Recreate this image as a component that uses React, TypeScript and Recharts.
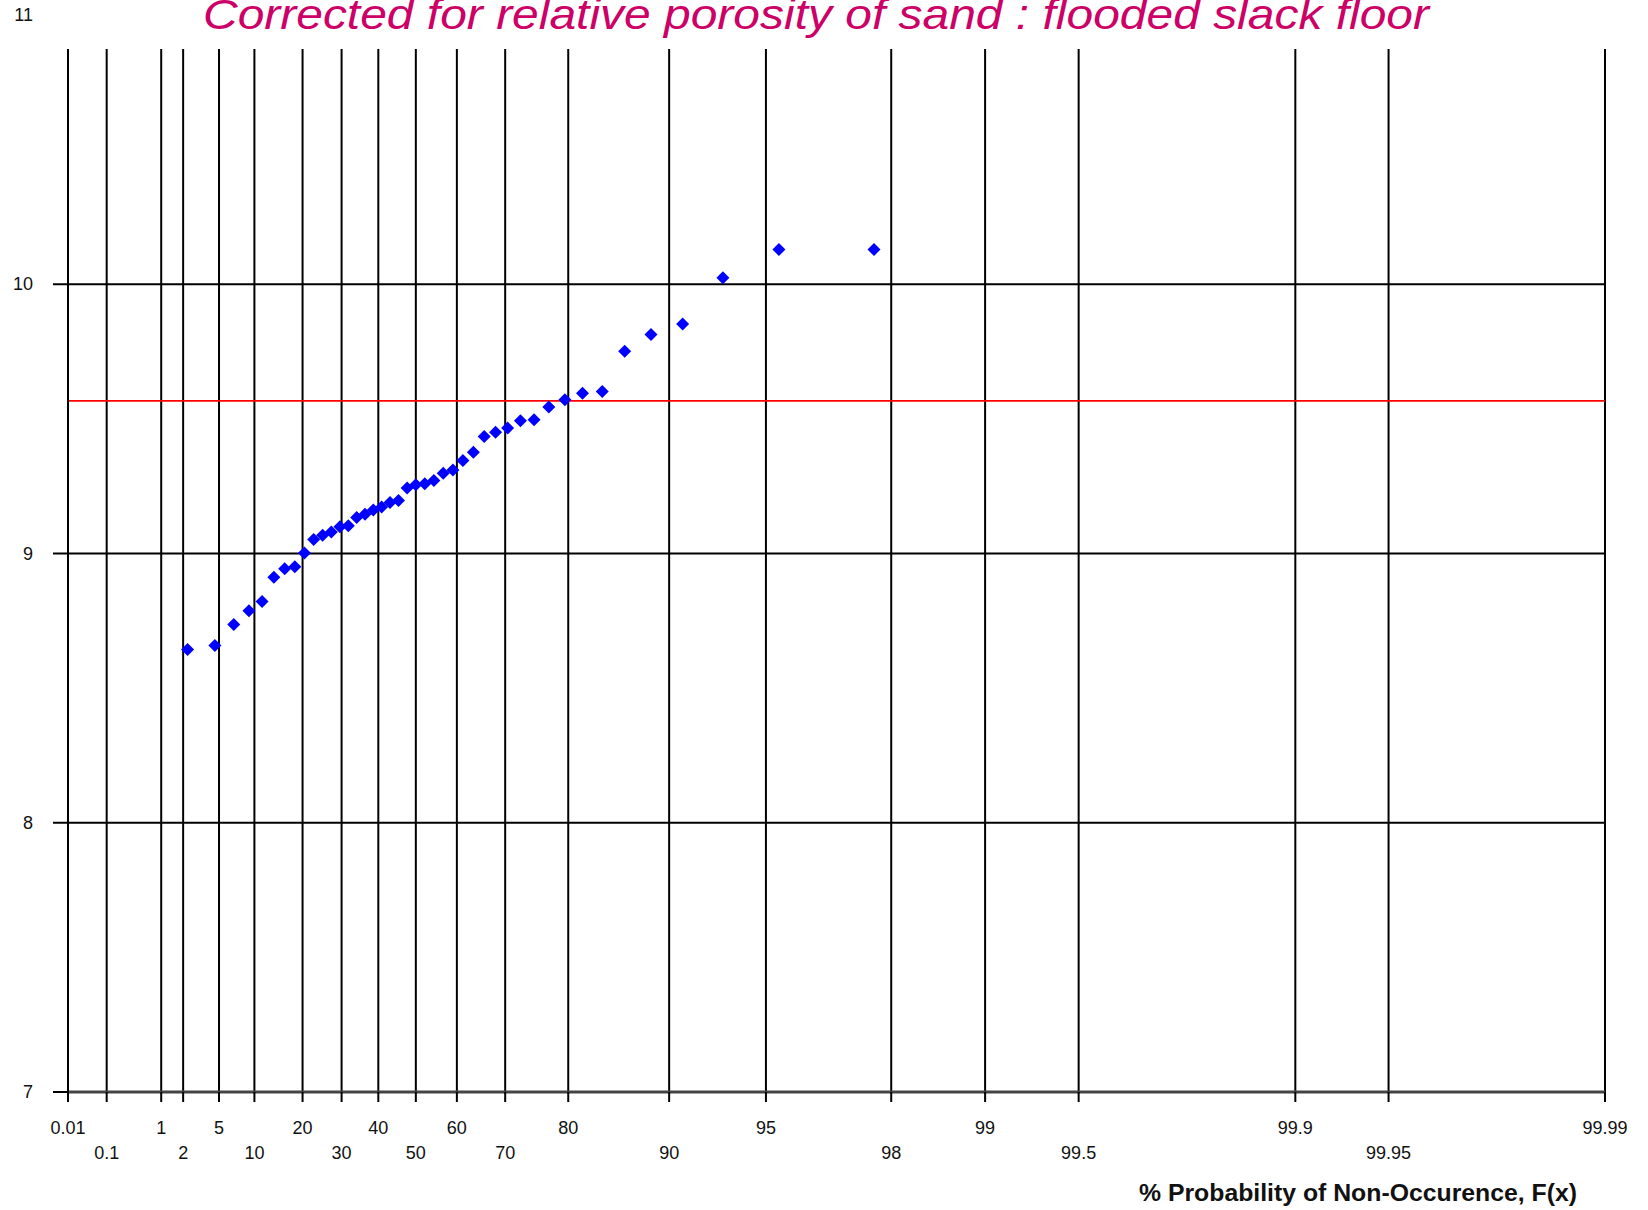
import React from 'react';
import {
  ScatterChart,
  Scatter,
  XAxis,
  YAxis,
  CartesianGrid,
  ReferenceLine,
} from 'recharts';

// plotting positions (% non-occurrence) and corrected porosity values
const probPct = [
  2.27, 4.55, 6.82, 9.09, 11.36, 13.64, 15.91, 18.18, 20.45, 22.73, 25.0,
  27.27, 29.55, 31.82, 34.09, 36.36, 38.64, 40.91, 43.18, 45.45, 47.73, 50.0,
  52.27, 54.55, 56.82, 59.09, 61.36, 63.64, 65.91, 68.18, 70.45, 72.73, 75.0,
  77.27, 79.55, 81.82, 84.09, 86.36, 88.64, 90.91, 93.18, 95.45, 97.73,
];
const porosity = [
  8.643, 8.658, 8.736, 8.787, 8.822, 8.912, 8.943, 8.951, 9.002, 9.052, 9.068,
  9.08, 9.099, 9.103, 9.134, 9.146, 9.162, 9.173, 9.189, 9.197, 9.243, 9.255,
  9.259, 9.271, 9.298, 9.31, 9.345, 9.376, 9.435, 9.45, 9.466, 9.493, 9.497,
  9.544, 9.571, 9.595, 9.602, 9.751, 9.813, 9.852, 10.024, 10.129, 10.129,
];
const meanValue = 9.567;

const probTicks = [
  0.01, 0.1, 1, 2, 5, 10, 20, 30, 40, 50, 60, 70, 80, 90, 95, 98, 99, 99.5,
  99.9, 99.95, 99.99,
];
const yTicks = [7, 8, 9, 10, 11];

const TITLE = 'Corrected for relative porosity of sand : flooded slack floor';
const X_TITLE = '% Probability of Non-Occurence, F(x)';

// Gumbel reduced variate for a percentage
const gumbel = (pct: number) => -Math.log(-Math.log(pct / 100));

const data = probPct.map((p, i) => ({ g: gumbel(p), v: porosity[i] }));
const tickPos = probTicks.map(gumbel);
const labelFor = new Map(tickPos.map((g, i) => [g.toFixed(6), String(probTicks[i])]));

const FONT = '"Liberation Sans", Arial, sans-serif';

const Diamond = (props: any) => {
  const { cx, cy } = props;
  const r = 6.5;
  return (
    <polygon
      points={`${cx},${cy - r} ${cx + r},${cy} ${cx},${cy + r} ${cx - r},${cy}`}
      fill="#0000ff"
    />
  );
};

const XTick = (props: any) => {
  const { x, y, payload, index } = props;
  const label = labelFor.get(Number(payload.value).toFixed(6)) ?? '';
  const dy = index % 2 === 0 ? 24 : 49;
  return (
    <text
      x={x}
      y={y + dy}
      textAnchor="middle"
      dominantBaseline="central"
      fontFamily={FONT}
      fontSize={18}
      fill="#111"
    >
      {label}
    </text>
  );
};

const YTick = (props: any) => {
  const { y, payload } = props;
  return (
    <text
      x={33}
      y={y}
      textAnchor="end"
      dominantBaseline="central"
      fontFamily={FONT}
      fontSize={18}
      fill="#111"
    >
      {payload.value}
    </text>
  );
};

export default function App() {
  return (
    <div style={{ position: 'absolute', left: 0, top: 0, width: 1648, height: 1210, background: '#fff' }}>
      <ScatterChart
        width={1648}
        height={1210}
        margin={{ top: 15, right: 43, bottom: 0, left: 0 }}
      >
        <CartesianGrid stroke="#000" strokeWidth={2} />
        <XAxis
          type="number"
          dataKey="g"
          domain={[tickPos[0], tickPos[tickPos.length - 1]]}
          ticks={tickPos}
          interval={0}
          height={118}
          tickSize={10}
          tick={<XTick />}
          tickLine={{ stroke: '#000', strokeWidth: 2 }}
          axisLine={{ stroke: '#444', strokeWidth: 3 }}
          allowDataOverflow
        />
        <YAxis
          type="number"
          dataKey="v"
          domain={[7, 11]}
          ticks={yTicks}
          interval={0}
          width={68}
          tickSize={15}
          tick={<YTick />}
          tickLine={{ stroke: '#000', strokeWidth: 2 }}
          axisLine={{ stroke: '#000', strokeWidth: 2 }}
        />
        <ReferenceLine y={meanValue} stroke="#ff0000" strokeWidth={1.6} />
        <Scatter data={data} shape={<Diamond />} isAnimationActive={false} />
      </ScatterChart>
      <svg
        width={1648}
        height={50}
        style={{ position: 'absolute', left: 0, top: 0 }}
      >
        <rect x={45} y={0} width={1603} height={49} fill="#fff" />
        <text
          x={816}
          y={29}
          textAnchor="middle"
          fontFamily={FONT}
          fontStyle="italic"
          fontSize={42}
          fill="#cc0066"
          textLength={1226}
          lengthAdjust="spacingAndGlyphs"
        >
          {TITLE}
        </text>
      </svg>
      <svg
        width={1648}
        height={40}
        style={{ position: 'absolute', left: 0, top: 1170 }}
      >
        <text
          x={1577}
          y={31}
          textAnchor="end"
          fontFamily={FONT}
          fontWeight="bold"
          fontSize={23}
          fill="#111"
          textLength={438}
          lengthAdjust="spacingAndGlyphs"
        >
          {X_TITLE}
        </text>
      </svg>
    </div>
  );
}
